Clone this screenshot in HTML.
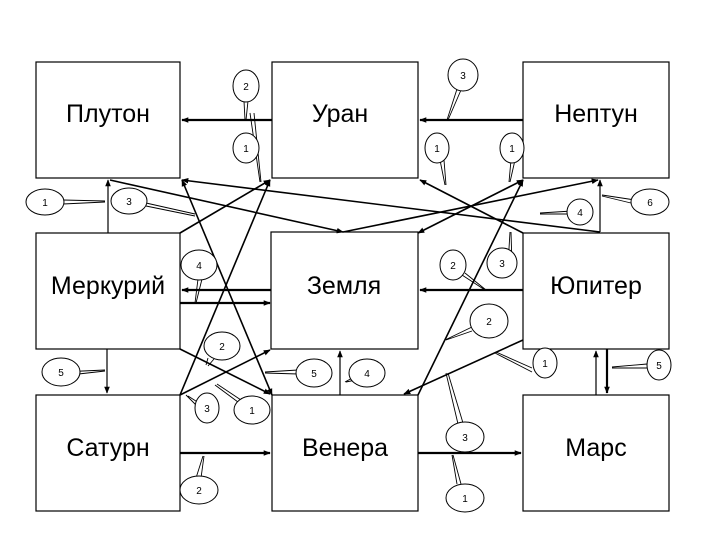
<!DOCTYPE html>
<html><head><meta charset="utf-8"><style>
html,body{margin:0;padding:0;background:#fff;}
svg{display:block;}
text{font-family:"Liberation Sans",sans-serif;fill:#000;}
</style></head><body>
<svg width="720" height="540" viewBox="0 0 720 540" xmlns="http://www.w3.org/2000/svg">
<defs>
<marker id="a" viewBox="0 0 10 10" refX="9" refY="5" markerWidth="7" markerHeight="7" orient="auto-start-reverse" markerUnits="userSpaceOnUse"><path d="M0,1 L10,5 L0,9 z" fill="#000"/></marker>
</defs>
<g fill="#fff" stroke="#000" stroke-width="1.2">
<rect x="36" y="62" width="144" height="116"/>
<rect x="272" y="62" width="146" height="116"/>
<rect x="523" y="62" width="146" height="116"/>
<rect x="36" y="233" width="144" height="116"/>
<rect x="271" y="232" width="147" height="117"/>
<rect x="523" y="233" width="146" height="116"/>
<rect x="36" y="395" width="144" height="116"/>
<rect x="272" y="395" width="146" height="116"/>
<rect x="523" y="395" width="146" height="116"/>
</g>
<g font-size="25" text-anchor="middle">
<text x="108" y="122">Плутон</text>
<text x="340" y="122">Уран</text>
<text x="596" y="122">Нептун</text>
<text x="108" y="294">Меркурий</text>
<text x="344" y="294">Земля</text>
<text x="596" y="294">Юпитер</text>
<text x="108" y="456">Сатурн</text>
<text x="345" y="456">Венера</text>
<text x="596" y="456">Марс</text>
</g>
<g stroke="#000" stroke-width="1.6" fill="none" marker-end="url(#a)">
<line x1="272" y1="120" x2="182" y2="120" stroke-width="2.2"/>
<line x1="523" y1="120" x2="420" y2="120" stroke-width="2.2"/>
<line x1="108" y1="233" x2="108" y2="180" stroke-width="1.2"/>
<line x1="180" y1="233" x2="270" y2="180"/>
<line x1="180" y1="395" x2="270" y2="180"/>
<line x1="272" y1="395" x2="182" y2="180" marker-start="url(#a)"/>
<line x1="600" y1="232" x2="182" y2="180"/>
<line x1="110" y1="180" x2="343" y2="232"/>
<line x1="343" y1="232" x2="598" y2="180"/>
<line x1="523" y1="233" x2="420" y2="180"/>
<line x1="418" y1="233" x2="523" y2="180" marker-start="url(#a)"/>
<line x1="418" y1="395" x2="523" y2="180"/>
<line x1="600" y1="232" x2="600" y2="180" stroke-width="1.2"/>
<line x1="523" y1="290" x2="420" y2="290" stroke-width="2.2"/>
<line x1="271" y1="290" x2="182" y2="290" stroke-width="2.2"/>
<line x1="180" y1="303" x2="270" y2="303" stroke-width="2.2"/>
<line x1="523" y1="340" x2="404" y2="394"/>
<line x1="180" y1="349" x2="270" y2="394"/>
<line x1="180" y1="395" x2="270" y2="350"/>
<line x1="107" y1="349" x2="107" y2="393" stroke-width="1.2"/>
<line x1="340" y1="395" x2="340" y2="351" stroke-width="1.2"/>
<line x1="180" y1="453" x2="270" y2="453" stroke-width="2.2"/>
<line x1="418" y1="453" x2="521" y2="453" stroke-width="2.2"/>
<line x1="596" y1="395" x2="596" y2="351" stroke-width="1.2"/>
<line x1="607" y1="349" x2="607" y2="393" stroke-width="2.2"/>
</g>
<g stroke="#000" stroke-width="0.9" fill="none">
<path d="M244,101 L245,120 M248,101 L246,120"/>
<path d="M457,89 L447,120 M461,90 L448,120"/>
<path d="M250,113 L260,182 M254,113 L261,182"/>
<path d="M440,160 L445,185 M444,160 L446,185"/>
<path d="M511,160 L509,182 M515,160 L510,182"/>
<path d="M63,200 L105,201 M63,204 L105,202"/>
<path d="M146,203 L195,214 M146,206 L195,216"/>
<path d="M572,211 L540,213 M572,214 L540,214"/>
<path d="M635,200 L602,195 M635,204 L602,196"/>
<path d="M198,279 L195,303 M202,279 L196,303"/>
<path d="M462,275 L485,290 M465,273 L486,290"/>
<path d="M508,265 L510,232 M512,265 L511,232"/>
<path d="M472,327 L445,340 M472,331 L446,340"/>
<path d="M532,368 L496,352 M532,372 L495,353"/>
<path d="M208,358 L206,365 M214,359 L208,366"/>
<path d="M196,405 L186,395 M199,403 L188,396"/>
<path d="M242,405 L215,385 M244,402 L217,384"/>
<path d="M298,370 L265,372 M298,374 L265,373"/>
<path d="M354,377 L345,382 M356,380 L346,382"/>
<path d="M61,372 L105,370 M61,376 L105,371"/>
<path d="M196,478 L203,456 M201,478 L204,456"/>
<path d="M458,424 L446,373 M463,423 L448,373"/>
<path d="M457,484 L452,455 M461,484 L453,455"/>
<path d="M647,364 L612,367 M647,368 L612,368"/>
</g>
<g stroke="#000" stroke-width="1" fill="#fff">
<ellipse cx="246" cy="86" rx="13" ry="16"/>
<ellipse cx="463" cy="75" rx="15" ry="16"/>
<ellipse cx="246" cy="148" rx="13" ry="15"/>
<ellipse cx="437" cy="148" rx="12" ry="15"/>
<ellipse cx="512" cy="148" rx="12" ry="15"/>
<ellipse cx="45" cy="202" rx="19" ry="13"/>
<ellipse cx="129" cy="201" rx="18" ry="13"/>
<ellipse cx="580" cy="212" rx="13" ry="13"/>
<ellipse cx="650" cy="202" rx="19" ry="13"/>
<ellipse cx="199" cy="265" rx="18" ry="15"/>
<ellipse cx="453" cy="265" rx="13" ry="15"/>
<ellipse cx="502" cy="263" rx="15" ry="15"/>
<ellipse cx="489" cy="321" rx="19" ry="17"/>
<ellipse cx="545" cy="363" rx="12" ry="15"/>
<ellipse cx="222" cy="346" rx="18" ry="14"/>
<ellipse cx="207" cy="408" rx="12" ry="15"/>
<ellipse cx="252" cy="410" rx="18" ry="14"/>
<ellipse cx="314" cy="373" rx="18" ry="14"/>
<ellipse cx="367" cy="373" rx="18" ry="14"/>
<ellipse cx="61" cy="372" rx="19" ry="14"/>
<ellipse cx="199" cy="490" rx="19" ry="14"/>
<ellipse cx="465" cy="437" rx="19" ry="15"/>
<ellipse cx="465" cy="498" rx="19" ry="14"/>
<ellipse cx="659" cy="365" rx="12" ry="15"/>
</g>
<g font-size="10" text-anchor="middle">
<text x="246" y="90">2</text>
<text x="463" y="79">3</text>
<text x="246" y="152">1</text>
<text x="437" y="152">1</text>
<text x="512" y="152">1</text>
<text x="45" y="206">1</text>
<text x="129" y="205">3</text>
<text x="580" y="216">4</text>
<text x="650" y="206">6</text>
<text x="199" y="269">4</text>
<text x="453" y="269">2</text>
<text x="502" y="267">3</text>
<text x="489" y="325">2</text>
<text x="545" y="367">1</text>
<text x="222" y="350">2</text>
<text x="207" y="412">3</text>
<text x="252" y="414">1</text>
<text x="314" y="377">5</text>
<text x="367" y="377">4</text>
<text x="61" y="376">5</text>
<text x="199" y="494">2</text>
<text x="465" y="441">3</text>
<text x="465" y="502">1</text>
<text x="659" y="369">5</text>
</g>
</svg>
</body></html>
